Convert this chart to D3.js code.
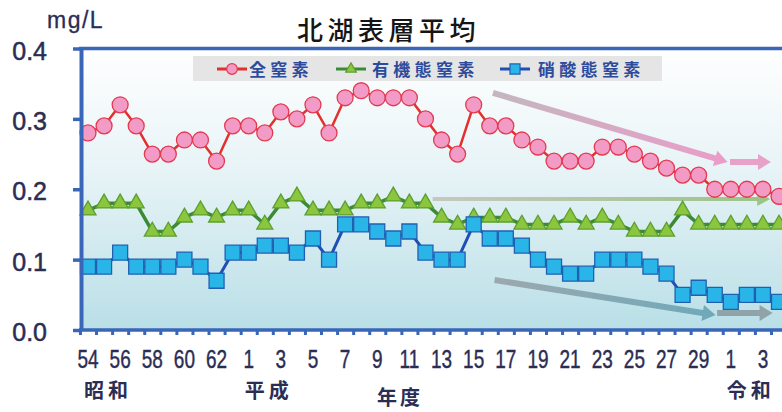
<!DOCTYPE html>
<html><head><meta charset="utf-8">
<script src="https://cdn.jsdelivr.net/npm/d3@7"></script>
<style>body{margin:0;background:#fff}svg{display:block}</style>
</head><body><svg id="c" width="782" height="412"></svg>
<script>
// ---- data ----
const years = [1979,1980,1981,1982,1983,1984,1985,1986,1987,1988,1989,1990,1991,1992,1993,1994,1995,1996,1997,1998,1999,2000,2001,2002,2003,2004,2005,2006,2007,2008,2009,2010,2011,2012,2013,2014,2015,2016,2017,2018,2019,2020,2021,2022];
const totalN   = [0.28,0.29,0.32,0.29,0.25,0.25,0.27,0.27,0.24,0.29,0.29,0.28,0.31,0.30,0.32,0.28,0.33,0.34,0.33,0.33,0.33,0.30,0.27,0.25,0.32,0.29,0.29,0.27,0.26,0.24,0.24,0.24,0.26,0.26,0.25,0.24,0.23,0.22,0.22,0.20,0.20,0.20,0.20,0.19];
const organicN = [0.17,0.18,0.18,0.18,0.14,0.14,0.16,0.17,0.16,0.17,0.17,0.15,0.18,0.19,0.17,0.17,0.17,0.18,0.18,0.19,0.18,0.18,0.16,0.15,0.16,0.16,0.16,0.15,0.15,0.15,0.16,0.15,0.16,0.15,0.14,0.14,0.14,0.17,0.15,0.15,0.15,0.15,0.15,0.15];
const nitrateN = [0.09,0.09,0.11,0.09,0.09,0.09,0.10,0.09,0.07,0.11,0.11,0.12,0.12,0.11,0.13,0.10,0.15,0.15,0.14,0.13,0.14,0.11,0.10,0.10,0.15,0.13,0.13,0.12,0.10,0.09,0.08,0.08,0.10,0.10,0.10,0.09,0.08,0.05,0.06,0.05,0.04,0.05,0.05,0.04];
const tickYears  = [1979,1981,1983,1985,1987,1989,1991,1993,1995,1997,1999,2001,2003,2005,2007,2009,2011,2013,2015,2017,2019,2021];
const tickLabels = ["54","56","58","60","62","1","3","5","7","9","11","13","15","17","19","21","23","25","27","29","1","3"];
const eraLabels = ["昭和","平成","令和"];
const eraYears  = [1979,1989,2019];
const yTicks = [0,0.1,0.2,0.3,0.4];
const seriesNames = ["全窒素","有機態窒素","硝酸態窒素"];
const title = "北湖表層平均";
const unit = "mg/L";
const xTitle = "年度";
// trend arrows (year, value)
const arrowFrom = [[2004.2,0.337],[2018.95,0.2386],[2000.45,0.186],[2004.3,0.071],[2018.15,0.024]];
const arrowTo   = [[2018.8,0.2386],[2021.5,0.2386],[2021.45,0.186],[2018.05,0.0213],[2021.6,0.024]];

// ---- styles ----
const svg = d3.select("#c");
const navy = "#2b2d55", axisBlue = "#3a66b8";
const x = d3.scaleLinear().domain([1979, 2022]).range([88, 88 + 43*16.07]);
const y = d3.scaleLinear().domain([0, 0.4]).range([330, 48.5]);
const plotL = 81, plotR = 782;

const defs = svg.append("defs");
const bg = defs.append("linearGradient").attr("id","bg").attr("x1",0).attr("y1",0).attr("x2",0).attr("y2",1);
bg.append("stop").attr("offset","0%").attr("stop-color","#ffffff");
bg.append("stop").attr("offset","45%").attr("stop-color","#e6f3f6");
bg.append("stop").attr("offset","100%").attr("stop-color","#b9dfe7");

svg.append("rect").attr("x",plotL).attr("y",y(0.4)).attr("width",plotR-plotL).attr("height",y(0)-y(0.4)).attr("fill","url(#bg)");

// title & unit
svg.append("text").attr("x",297).attr("y",40).attr("font-family","'Noto Sans CJK JP',sans-serif")
  .attr("font-size",26).attr("font-weight",500).attr("letter-spacing",4.5).attr("fill","#151515").text(title);
svg.append("text").attr("x",47).attr("y",28).attr("font-family","'Liberation Sans',Arial,sans-serif")
  .attr("font-size",23).attr("letter-spacing",1.5).attr("fill",navy).attr("stroke",navy).attr("stroke-width",0.3).text(unit);

// arrows
const arrowStyles = [
  {c1:"#c4b6c0", c2:"#ea9dc8", w:6},
  {c1:"#e8a2ca", c2:"#e8a2ca", w:6},
  {c1:"#c6c8c0", c2:"#9cc486", w:4},
  {c1:"#9ca8ae", c2:"#6ea9b9", w:6},
  {c1:"#8fa3a9", c2:"#8fa3a9", w:6}
];
const ag = svg.append("g");
arrowFrom.forEach((f,i)=>{
  const st = arrowStyles[i];
  const p1 = [x(f[0]), y(f[1])], p2 = [x(arrowTo[i][0]), y(arrowTo[i][1])];
  const dx = p2[0]-p1[0], dy = p2[1]-p1[1], L = Math.hypot(dx,dy);
  const u = [dx/L, dy/L], n = [-u[1], u[0]];
  const hl = 13, hw = st.w/2 + 5, sw = st.w/2;
  const b = [p2[0]-u[0]*hl, p2[1]-u[1]*hl];
  const pts = [
    [p1[0]+n[0]*sw, p1[1]+n[1]*sw],
    [b[0]+n[0]*sw, b[1]+n[1]*sw],
    [b[0]+n[0]*hw, b[1]+n[1]*hw],
    p2,
    [b[0]-n[0]*hw, b[1]-n[1]*hw],
    [b[0]-n[0]*sw, b[1]-n[1]*sw],
    [p1[0]-n[0]*sw, p1[1]-n[1]*sw]
  ];
  const gid = "ag"+i;
  const g = defs.append("linearGradient").attr("id",gid).attr("gradientUnits","userSpaceOnUse")
    .attr("x1",p1[0]).attr("y1",p1[1]).attr("x2",p2[0]).attr("y2",p2[1]);
  g.append("stop").attr("offset","0%").attr("stop-color",st.c1);
  g.append("stop").attr("offset","100%").attr("stop-color",st.c2);
  ag.append("polygon").attr("points",pts.map(p=>p.join(",")).join(" ")).attr("fill",`url(#${gid})`);
});

// series
const series = [
  {vals: totalN, line:"#e3302c", lw:2.5, sym:d3.symbolCircle, size:200, fill:"#f29bc7", stroke:"#e5394f"},
  {vals: organicN, line:"#3b8a36", lw:3.5, sym:d3.symbolTriangle, size:110, fill:"#8cc63f", stroke:"#5b9f30"},
  {vals: nitrateN, line:"#1f4fb4", lw:3, sym:d3.symbolSquare, size:225, fill:"#29b5e8", stroke:"#2060b2"}
];
const lineGen = d3.line().x((d,i)=>x(years[i])).y(d=>y(d));
series.forEach(s=>{
  const g = svg.append("g");
  g.append("path").attr("d",lineGen(s.vals)).attr("fill","none").attr("stroke",s.line).attr("stroke-width",s.lw).attr("stroke-linejoin","round");
  g.selectAll("path.m").data(s.vals).join("path").attr("class","m")
    .attr("transform",(d,i)=>`translate(${x(years[i])},${y(d)})`)
    .attr("d",d3.symbol().type(s.sym).size(s.size)())
    .attr("fill",s.fill).attr("stroke",s.stroke).attr("stroke-width",1.3);
});

// axes
const yAxis = svg.append("g").attr("transform",`translate(${plotL},0)`)
  .call(d3.axisLeft(y).tickValues(yTicks).tickSize(8).tickSizeOuter(0).tickPadding(26).tickFormat(d3.format(".1f")));
yAxis.select(".domain").attr("stroke",axisBlue).attr("stroke-width",4);
yAxis.selectAll(".tick line").attr("stroke",axisBlue).attr("stroke-width",3.5);
yAxis.selectAll(".tick text").attr("font-family","'Liberation Sans',Arial,sans-serif").attr("font-size",25)
  .attr("fill",navy).attr("stroke",navy).attr("stroke-width",0.5).attr("dy","0.42em");

const boundaries = years.map(d=>d-0.5).concat([2022.5]);
const xAxis = svg.append("g").attr("transform",`translate(0,${y(0)})`)
  .call(d3.axisBottom(x).tickValues(boundaries).tickSize(5).tickSizeOuter(0).tickFormat(""));
xAxis.select(".domain").remove();
xAxis.append("line").attr("x1",plotL-2).attr("x2",plotR).attr("y1",0).attr("y2",0).attr("stroke",axisBlue).attr("stroke-width",3.5);
xAxis.selectAll(".tick line").attr("stroke",axisBlue).attr("stroke-width",3);

// top border
svg.append("line").attr("x1",plotL-2).attr("x2",plotR).attr("y1",y(0.4)).attr("y2",y(0.4)).attr("stroke",axisBlue).attr("stroke-width",3.5);

// x tick labels (condensed)
svg.append("g").selectAll("text").data(tickYears).join("text")
  .attr("transform",d=>`translate(${x(d)},368) scale(0.76,1)`)
  .attr("text-anchor","middle").attr("font-family","'Liberation Sans',Arial,sans-serif").attr("font-size",25)
  .attr("fill",navy).attr("stroke",navy).attr("stroke-width",0.4)
  .text((d,i)=>tickLabels[i]);

// era labels
svg.append("g").selectAll("text").data(eraYears).join("text")
  .attr("x",d=>x(d)-4).attr("y",398)
  .attr("font-family","'Noto Sans CJK JP',sans-serif").attr("font-size",20).attr("font-weight",700)
  .attr("letter-spacing",4).attr("fill",navy).text((d,i)=>eraLabels[i]);

// x title
svg.append("text").attr("x",377).attr("y",405).attr("font-family","'Noto Sans CJK JP',sans-serif")
  .attr("font-size",20).attr("font-weight",700).attr("letter-spacing",3).attr("fill",navy).text(xTitle);

// legend
const lg = svg.append("g");
lg.append("rect").attr("x",193).attr("y",56).attr("width",469).attr("height",25).attr("fill","#e3e3e3").attr("opacity",0.92);
const legX = [217, 336, 500];
const legTextX = [249, 372, 538];
series.forEach((s,i)=>{
  lg.append("line").attr("x1",legX[i]).attr("x2",legX[i]+30).attr("y1",69).attr("y2",69).attr("stroke",s.line).attr("stroke-width",3);
  lg.append("path").attr("transform",`translate(${legX[i]+15},69)`).attr("d",d3.symbol().type(s.sym).size(s.size*0.45)())
    .attr("fill",s.fill).attr("stroke",s.stroke).attr("stroke-width",1.2);
  lg.append("text").attr("x",legTextX[i]).attr("y",75.5).attr("font-family","'Noto Sans CJK JP',sans-serif")
    .attr("font-size",17).attr("font-weight",700).attr("letter-spacing",4.3).attr("fill","#2d4b9d").text(seriesNames[i]);
});
</script></body></html>
